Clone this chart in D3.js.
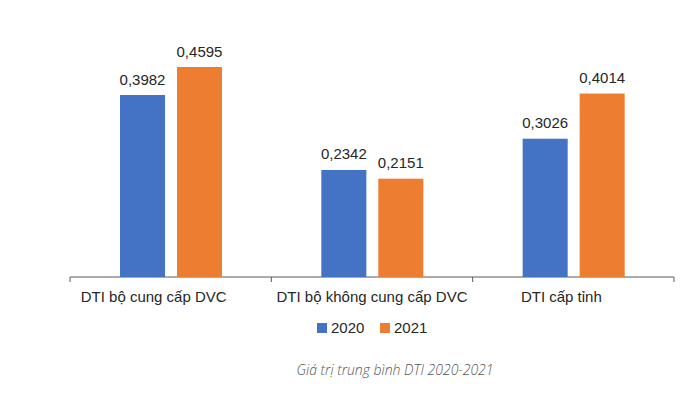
<!DOCTYPE html>
<html>
<head>
<meta charset="utf-8">
<script src="https://cdn.jsdelivr.net/npm/d3@7"></script>
<style>
  body { margin: 0; background: #fff; }
  svg text { font-family: "Liberation Sans", Arial, sans-serif; }
</style>
</head>
<body>
<div id="chart"></div>
<script>
const categories = ['DTI bộ cung cấp DVC', 'DTI bộ không cung cấp DVC', 'DTI cấp tỉnh'];
const seriesNames = ['2020', '2021'];
const values2020 = [0.3982, 0.2342, 0.3026];
const values2021 = [0.4595, 0.2151, 0.4014];
const colors = ['#4472C4', '#ED7D31'];
const caption = 'Giá trị trung bình DTI 2020-2021';

// horizontal shift of each category label relative to its band centre
const labelShift = [-17, 0, -12];

const width = 700, height = 393;
const svg = d3.select('#chart').append('svg')
    .attr('width', width)
    .attr('height', height);

const x0 = d3.scaleBand()
    .domain(categories)
    .range([70, 674])
    .padding(0);

const x1 = d3.scaleBand()
    .domain(seriesNames)
    .range([50, 152])
    .paddingInner(0.21)
    .paddingOuter(0);

const y = d3.scaleLinear()
    .domain([0, 0.5])
    .range([277, 48.5]);

const fmt = v => d3.format('.4f')(v).replace('.', ',');

const rows = categories.map((c, i) => ({
    cat: c,
    vals: [values2020[i], values2021[i]]
}));

// axis line with tick marks at category borders
const axis = svg.append('g')
    .attr('transform', 'translate(0,277)');
axis.append('line')
    .attr('x1', 70).attr('x2', 674)
    .attr('stroke', '#595959').attr('stroke-width', 1);
const borders = [x0.range()[0]].concat(categories.map(c => x0(c) + x0.bandwidth()));
axis.selectAll('.border')
    .data(borders)
    .join('line')
    .attr('x1', d => d).attr('x2', d => d)
    .attr('y1', 0).attr('y2', 5)
    .attr('stroke', '#595959');

const groups = svg.selectAll('.grp')
    .data(rows)
    .join('g')
    .attr('transform', d => `translate(${x0(d.cat)},0)`);

groups.selectAll('rect')
    .data(d => d.vals.map((v, j) => ({ s: seriesNames[j], v, j })))
    .join('rect')
    .attr('x', d => x1(d.s))
    .attr('y', d => y(d.v))
    .attr('width', x1.bandwidth())
    .attr('height', d => y(0) - y(d.v))
    .attr('fill', d => colors[d.j]);

groups.selectAll('.val')
    .data(d => d.vals.map((v, j) => ({ s: seriesNames[j], v, j })))
    .join('text')
    .attr('x', d => x1(d.s) + x1.bandwidth() / 2)
    .attr('y', d => y(d.v) - 10.5)
    .attr('text-anchor', 'middle')
    .attr('font-size', 15)
    .attr('fill', '#262626')
    .text(d => fmt(d.v));

svg.selectAll('.cat')
    .data(categories)
    .join('text')
    .attr('x', (d, i) => x0(d) + x0.bandwidth() / 2 + labelShift[i])
    .attr('y', 302)
    .attr('text-anchor', 'middle')
    .attr('font-size', 15)
    .attr('fill', '#262626')
    .text(d => d);

// legend
const legend = svg.append('g').attr('transform', 'translate(317,323)');
const li = legend.selectAll('g')
    .data(seriesNames)
    .join('g')
    .attr('transform', (d, i) => `translate(${i * 63},0)`);
li.append('rect')
    .attr('width', 10).attr('height', 10)
    .attr('fill', (d, i) => colors[i]);
li.append('text')
    .attr('x', 14).attr('y', 10)
    .attr('font-size', 15)
    .attr('fill', '#262626')
    .text(d => d);

svg.append('text')
    .attr('x', 395)
    .attr('y', 375)
    .attr('text-anchor', 'middle')
    .attr('font-size', 14)
    .attr('font-style', 'italic')
    .attr('font-weight', 300)
    .attr('fill', '#555')
    .style('font-family', '"Open Sans", sans-serif')
    .text(caption);
</script>
</body>
</html>
